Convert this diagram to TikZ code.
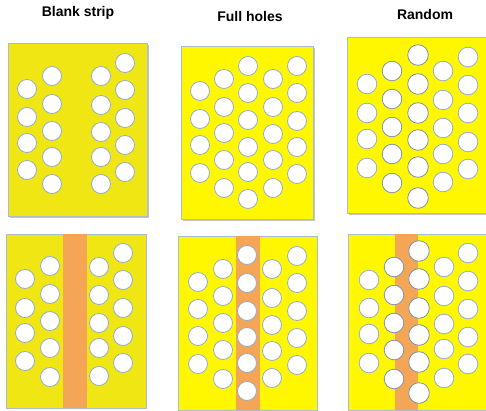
\documentclass[tikz,border=0pt]{standalone}
\usepackage{fontspec}
\setmainfont{Liberation Sans}
\usepackage{tikz}

\definecolor{plateA}{HTML}{F0E614}
\definecolor{plateB}{HTML}{FFF700}
\definecolor{stripcol}{HTML}{F5A556}
\definecolor{rimcol}{HTML}{93AECB}
\definecolor{rimdark}{HTML}{7F93AE}
\definecolor{edgecol}{HTML}{A9BCD0}

\tikzset{
  hole/.style={fill=white,draw=rimcol,line width=0.8pt},
  plate/.style={draw=edgecol,line width=0.6pt},
  title/.style={font=\bfseries\fontsize{14}{16}\selectfont}
}

\begin{document}
\begin{tikzpicture}[x=1pt,y=-1pt]
  \useasboundingbox (0,0) rectangle (486,411);
  % titles
  \node[title] (tblank) at (78,13) {Blank strip};
  \node[title] (tfull) at (250,17) {Full holes};
  \node[title] (trand) at (425,15) {Random};

  % top row: plates
  \fill[gray!45] (10,45) rectangle (149,218);
  \fill[plateA,plate] (8,43) rectangle (147,216);
  \fill[gray!45] (183,48) rectangle (315,221);
  \fill[plateB,plate] (181,46) rectangle (313,219);
  \fill[gray!45] (349,39) rectangle (488,215);
  \fill[plateB,plate] (347,37) rectangle (487,213);

  % blank strip, top
  \foreach \y in {89,117,143,170} \draw[hole] (27,\y) circle (9.5pt);
  \foreach \y in {76,104,131,157,184} \draw[hole] (52,\y) circle (9.5pt);
  \foreach \y in {76,105,132,157,184} \draw[hole] (101,\y) circle (9.5pt);
  \foreach \y in {63,90,118,145,172} \draw[hole] (125,\y) circle (9.5pt);

  % full holes, top
  \foreach \y in {91,119,145,173} \draw[hole] (200,\y) circle (9.5pt);
  \foreach \y in {79,107,133,160,188} \draw[hole] (224,\y) circle (9.5pt);
  \foreach \y in {66,93,120,147,172,199} \draw[hole] (248,\y) circle (9.5pt);
  \foreach \y in {79,107,134,160,188} \draw[hole] (273,\y) circle (9.5pt);
  \foreach \y in {66,93,121,147,174} \draw[hole] (297,\y) circle (9.5pt);

  % random, top
  \foreach \y in {84,113,139,168} \draw[hole] (367,\y) circle (9.8pt);
  \foreach \y in {71,99,127,154,183} \draw[hole,draw=rimdark] (392,\y) circle (9.8pt);
  \foreach \y in {55,84,113,140,167,198} \draw[hole,draw=rimdark] (418,\y) circle (10.3pt);
  \foreach \y in {71,100,128,154,182} \draw[hole] (443,\y) circle (9.8pt);
  \foreach \y in {57,85,113,142,169} \draw[hole] (468,\y) circle (9.8pt);

  % bottom row: plates with strips
  \fill[plateA,plate] (6,234) rectangle (146,408);
  \fill[stripcol] (63,234.3) rectangle (87,407.7);
  \fill[plateB,plate] (178,236) rectangle (317,410);
  \fill[stripcol] (236,236.3) rectangle (260,409.7);
  \fill[plateB,plate] (348,234) rectangle (487,410);
  \fill[stripcol] (395,234.3) rectangle (418,409.7);

  % blank strip, bottom
  \foreach \y in {279,308,333,361} \draw[hole] (25,\y) circle (9.5pt);
  \foreach \y in {266,294,321,348,377} \draw[hole] (50,\y) circle (9.5pt);
  \foreach \y in {267,295,323,348,376} \draw[hole] (99,\y) circle (9.5pt);
  \foreach \y in {253,280,308,336,363} \draw[hole] (123,\y) circle (9.5pt);

  % full holes, bottom
  \foreach \y in {282,309,336,364} \draw[hole] (198,\y) circle (9.5pt);
  \foreach \y in {269,296,323,350,379} \draw[hole] (223,\y) circle (9.5pt);
  \foreach \y in {255,283,311,337,363,391} \draw[hole] (247,\y) circle (9.5pt);
  \foreach \y in {269,298,325,351,378} \draw[hole] (272,\y) circle (9.5pt);
  \foreach \y in {256,283,311,338,365} \draw[hole] (297,\y) circle (9.5pt);

  % random, bottom
  \foreach \y in {280,308,334,363} \draw[hole] (369,\y) circle (9.8pt);
  \foreach \y in {267,295,323,350,379} \draw[hole,draw=rimdark] (394,\y) circle (9.8pt);
  \foreach \y in {251,279,308,335,362,393} \draw[hole,draw=rimdark] (419,\y) circle (10.3pt);
  \foreach \y in {267,296,324,349,378} \draw[hole] (444,\y) circle (9.8pt);
  \foreach \y in {253,281,309,337,364} \draw[hole] (468,\y) circle (9.8pt);
\end{tikzpicture}
\end{document}
